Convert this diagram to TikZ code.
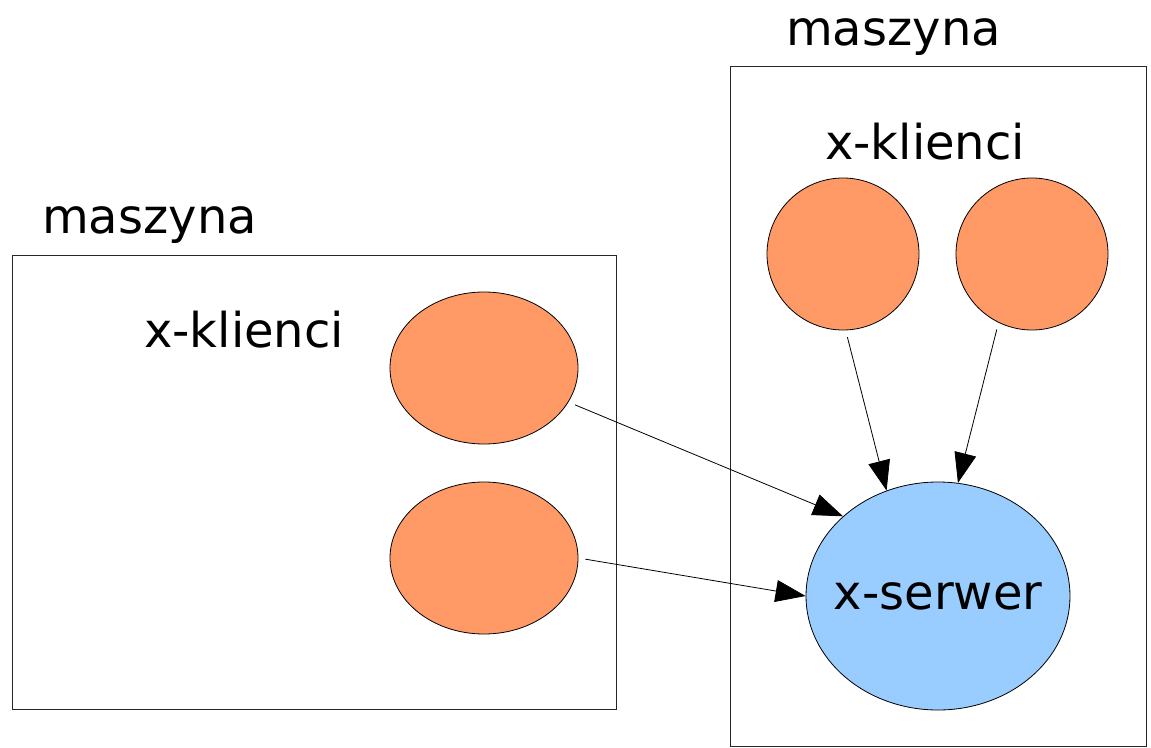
\documentclass[tikz,border=0pt]{standalone}
\usepackage{fontspec}
\setmainfont{DejaVu Sans}
\usetikzlibrary{arrows.meta,shapes.geometric}
\definecolor{client}{HTML}{FF9966}
\definecolor{server}{HTML}{99CCFF}
\tikzset{
  machine/.style={draw=black!85, line width=1pt},
  lbl/.style={inner sep=0pt, anchor=base west, font=\fontsize{48}{57}\selectfont},
  clientnode/.style={ellipse, draw=black, line width=0.8pt, fill=client, inner sep=0pt},
  servernode/.style={ellipse, draw=black, line width=0.8pt, fill=server, inner sep=0pt,
    label={[font=\fontsize{48}{57}\selectfont, inner sep=0pt]center:x-serwer}},
  conn/.style={draw=black, line width=0.8pt, -{Triangle[length=30pt,width=22pt]}, shorten <=7pt}
}
\begin{document}
\begin{tikzpicture}[x=1pt,y=-1pt]
\useasboundingbox (0,0) rectangle (1151,747);
% machines
\draw[machine] (12,255) rectangle (616,709);
\draw[machine] (730,66) rectangle (1146,746);
\node[lbl] (m1) at (42,233) {maszyna};
\node[lbl] (m2) at (786,45) {maszyna};
\node[lbl] (k1) at (144,347) {x-klienci};
\node[lbl] (k2) at (825,159) {x-klienci};
% clients
\node[clientnode, minimum width=188pt, minimum height=152pt] (e1) at (484,368) {};
\node[clientnode, minimum width=188pt, minimum height=152pt] (e2) at (484,558) {};
\node[clientnode, minimum width=152pt, minimum height=152pt] (c1) at (843,254) {};
\node[clientnode, minimum width=152pt, minimum height=152pt] (c2) at (1032,254) {};
% server
\node[servernode, minimum width=264pt, minimum height=228pt] (s) at (938,596) {};
% connectors
\draw[conn] (e1.-22) -- (s.140.6);
\draw[conn] (e2.east) -- (s.west);
\draw[conn] (c1.-88.5) -- (s.116.6);
\draw[conn] (c2.-116) -- (s.80);
\end{tikzpicture}
\end{document}
